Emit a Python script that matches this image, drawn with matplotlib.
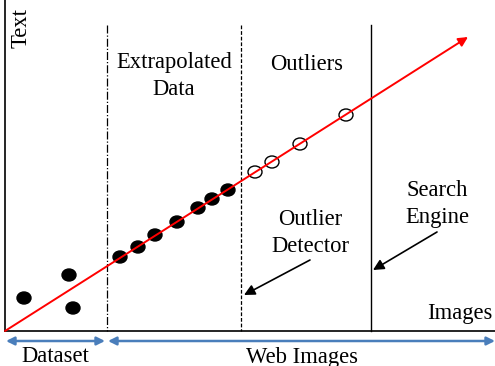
import matplotlib
matplotlib.use("Agg")
import matplotlib.pyplot as plt
from matplotlib.patches import Ellipse

plt.rcParams['font.family'] = ['Liberation Serif', 'DejaVu Serif']

# data in pixel-like diagram units (y grows downward)
dataset_x = [24, 69, 73]
dataset_y = [298, 275, 308]
extrap_x = [120, 138, 155, 177, 198, 212, 228]
extrap_y = [257, 247, 235, 222, 208, 199, 190]
outlier_x = [255, 272, 300, 346]
outlier_y = [172, 162, 144, 115]
line_start = (5, 331)
line_end = (468, 37)
dividers_x = [107, 241, 371]

fig = plt.figure(figsize=(4.95, 3.66), dpi=100)
ax = fig.add_axes([0, 0, 1, 1])
ax.set_xlim(0, 495)
ax.set_ylim(366, 0)
ax.axis('off')

# axes of the diagram
ax.plot([5, 5], [0, 331], color='black', lw=1.2)
ax.plot([5, 495], [331, 331], color='black', lw=1.2)

# red trend arrow
ax.annotate('', xy=line_end, xytext=line_start,
            arrowprops=dict(arrowstyle='-|>', color='red', lw=1.4,
                            mutation_scale=14, shrinkA=0, shrinkB=0))

# vertical dividers
ax.plot([dividers_x[0]] * 2, [25, 331], color='black', lw=0.9, ls='-.')
ax.plot([dividers_x[1]] * 2, [25, 331], color='black', lw=0.9, ls=(0, (3, 1.5)))
ax.plot([dividers_x[2]] * 2, [25, 331], color='black', lw=1.0)

for x, y in zip(dataset_x + extrap_x, dataset_y + extrap_y):
    ax.add_patch(Ellipse((x, y), 14, 12, facecolor='black', edgecolor='black'))
for x, y in zip(outlier_x, outlier_y):
    ax.add_patch(Ellipse((x, y), 14, 12, facecolor='white', edgecolor='black', lw=1.0))

fs = 16.3
ls = 1.42
ax.text(21, 28, 'Text', rotation=90, ha='center', va='center', fontsize=fs)
ax.text(174, 76, 'Extrapolated\nData', ha='center', va='center', fontsize=fs, linespacing=ls)
ax.text(307, 65, 'Outliers', ha='center', va='center', fontsize=fs)
ax.text(310, 233, 'Outlier\nDetector', ha='center', va='center', fontsize=fs, linespacing=ls)
ax.text(437, 204, 'Search\nEngine', ha='center', va='center', fontsize=fs, linespacing=ls)
ax.text(460, 313, 'Images', ha='center', va='center', fontsize=fs)
ax.text(55, 357, 'Dataset', ha='center', va='center', fontsize=fs)
ax.text(302, 357, 'Web Images', ha='center', va='center', fontsize=fs)

# black pointer arrows
ax.annotate('', xy=(244, 295), xytext=(310, 260),
            arrowprops=dict(arrowstyle='-|>', color='black', lw=1.2,
                            mutation_scale=16, shrinkA=0, shrinkB=0))
ax.annotate('', xy=(373, 270), xytext=(437, 232),
            arrowprops=dict(arrowstyle='-|>', color='black', lw=1.2,
                            mutation_scale=16, shrinkA=0, shrinkB=0))

# blue range arrows
blue = '#4a7ebb'
ax.annotate('', xy=(105, 341), xytext=(6, 341),
            arrowprops=dict(arrowstyle='<|-|>', color=blue, lw=1.8,
                            mutation_scale=12, shrinkA=0, shrinkB=0))
ax.annotate('', xy=(495, 341), xytext=(108, 341),
            arrowprops=dict(arrowstyle='<|-|>', color=blue, lw=1.8,
                            mutation_scale=12, shrinkA=0, shrinkB=0))

fig.savefig('out.png', dpi=100)
